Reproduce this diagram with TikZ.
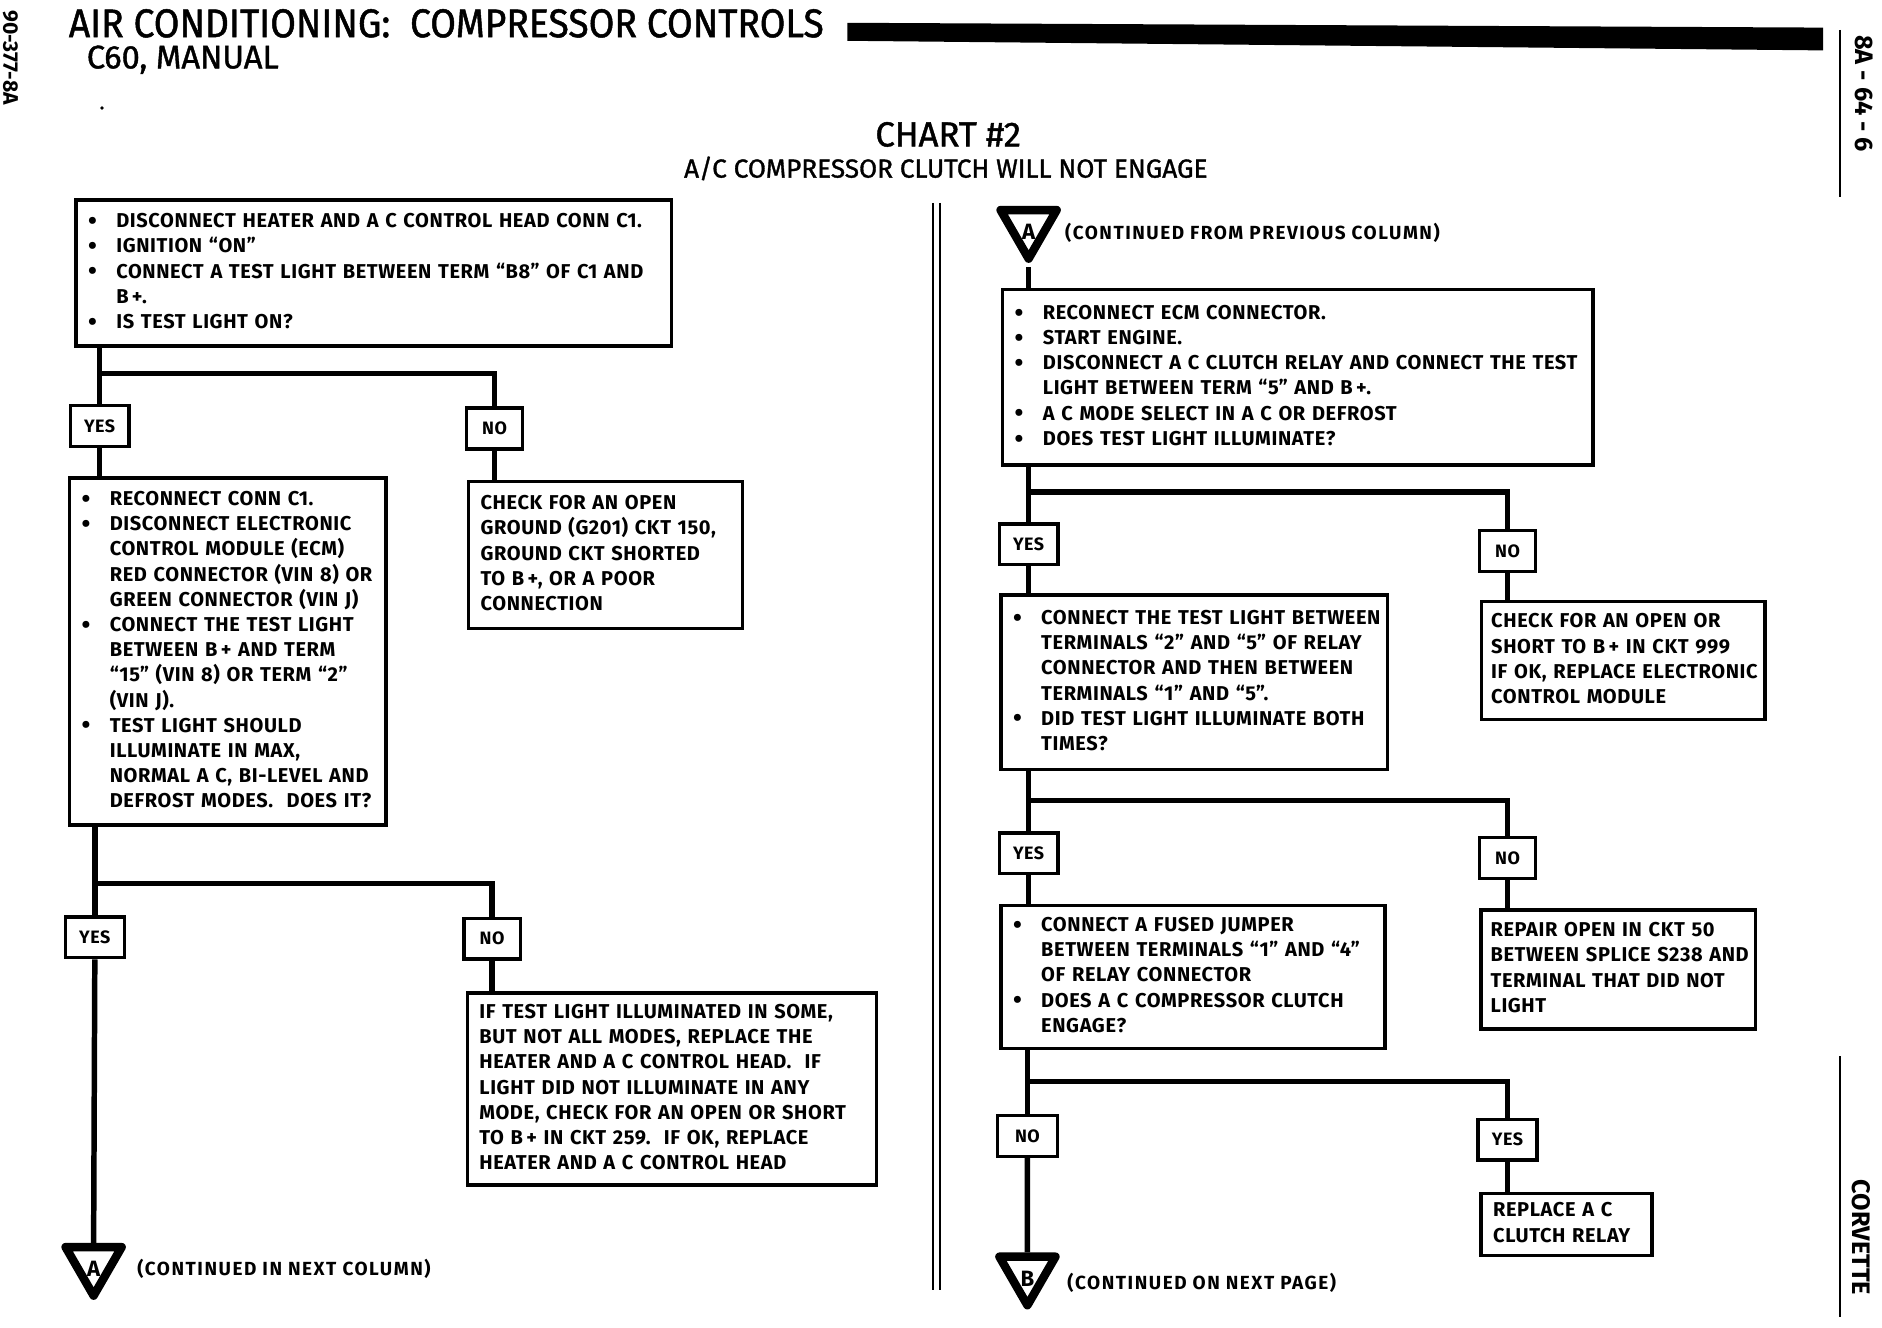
\documentclass[tikz,border=0pt]{standalone}
\usepackage{fontspec}
\setmainfont{Fira Sans}
\newfontfamily\headfont{Fira Sans}[Ligatures=TeX, FakeStretch=0.93, FakeBold=1.2]
\newfontfamily\midfont{Fira Sans}[Ligatures=TeX, FakeBold=1.2]
\newfontfamily\boxfont{Fira Sans}[Ligatures=TeX, LetterSpace=3]
\newfontfamily\notefont{Fira Sans}[Ligatures=TeX, LetterSpace=8]
\usetikzlibrary{shapes.geometric}

\newcommand{\bul}{\makebox[0.47cm][l]{\raisebox{-0.8pt}[0pt][0pt]{\fontsize{12}{11.95}\selectfont\textbullet}}}
\newcommand{\ind}{\hspace*{0.47cm}}
\newcommand{\Bp}{B\,+}
\newcommand{\rows}[1]{\begin{tabular}{@{}l@{}}#1\end{tabular}}
\newcommand{\flagletter}[1]{\raisebox{-0.22cm}[0pt][0pt]{#1}}

\tikzset{
  box/.style={draw, line width=1.6pt, anchor=north west, align=left,
    inner xsep=0.2cm, inner ysep=0pt,
    font=\boxfont\fontsize{9.5}{11.95}\selectfont\bfseries},
  ans/.style={draw, line width=1.6pt, fill=white, inner sep=0pt,
    minimum width=0.98cm, minimum height=0.68cm,
    font=\boxfont\fontsize{8.5}{10}\selectfont\bfseries},
  wire/.style={line width=2.6pt},
  flag/.style={draw, line width=4pt, line join=round, regular polygon,
    regular polygon sides=3, shape border rotate=180, minimum size=1.08cm,
    inner sep=0pt, font=\fontsize{10.5}{11}\selectfont\bfseries},
  note/.style={anchor=west, inner sep=0pt,
    font=\notefont\fontsize{9}{10}\selectfont\bfseries},
  side/.style={rotate=-90, inner sep=0pt,
    font=\fontsize{12}{12}\selectfont\bfseries}
}

\begin{document}
\begin{tikzpicture}[x=0.02cm,y=-0.02cm]
      \useasboundingbox (0,0) rectangle (1568,1106.4);
      % page header
      \node[anchor=base west, inner sep=0pt, font=\headfont\fontsize{19}{20}\selectfont] (title) at (57,31) {AIR CONDITIONING:\ \ COMPRESSOR CONTROLS};
      \node[anchor=base west, inner sep=0pt, font=\midfont\fontsize{15.5}{16}\selectfont] (model) at (72,57) {C60, MANUAL};
      \fill (706,19) -- (1519,23) -- (1519,42) -- (706,34) -- cycle;
      \fill (85,90) circle (1.5);
      \node[side, anchor=south, font=\fontsize{10}{10}\selectfont\bfseries] (code) at (2,48) {90-377-8A};
      \node[side] (page) at (1553,78) {8A - 64 - 6};
      \node[side] (make) at (1551,1031) {CORVETTE};
      \draw[line width=1.2pt] (1533,25) -- (1533,164);
      \draw[line width=1.2pt] (1533,880) -- (1533,1097);
      \node[anchor=base, inner sep=0pt, font=\midfont\fontsize{16.5}{17}\selectfont] (chart) at (790,122) {CHART \#2};
      \node[anchor=base, inner sep=0pt, font=\midfont\fontsize{12.4}{13}\selectfont] (problem) at (788,148) {A/C COMPRESSOR CLUTCH WILL NOT ENGAGE};
      \draw[line width=1pt] (777.5,169) -- (777.5,1075);
      \draw[line width=1pt] (783,169) -- (783,1075);

      % left column
      \node[box, text width=9.52cm, minimum height=2.43cm] (q1) at (62,165.3) {\rows{%
        \bul DISCONNECT HEATER AND A C CONTROL HEAD CONN C1.\\
        \bul IGNITION ``ON''\\
        \bul CONNECT A TEST LIGHT BETWEEN TERM ``B8'' OF C1 AND\\
        \ind \Bp.\\
        \bul IS TEST LIGHT ON?}};
      \node[ans] (yes1) at (83,355) {YES};
      \node[ans, minimum width=0.94cm] (no1) at (412,357) {NO};
      \node[box, text width=4.87cm, minimum height=5.78cm] (a1) at (56.6,397) {\rows{%
        \bul RECONNECT CONN C1.\\
        \bul DISCONNECT ELECTRONIC\\
        \ind CONTROL MODULE (ECM)\\
        \ind RED CONNECTOR (VIN 8) OR\\
        \ind GREEN CONNECTOR (VIN J)\\
        \bul CONNECT THE TEST LIGHT\\
        \ind BETWEEN \Bp\ AND TERM\\
        \ind ``15'' (VIN 8) OR TERM ``2''\\
        \ind (VIN J).\\
        \bul TEST LIGHT SHOULD\\
        \ind ILLUMINATE IN MAX,\\
        \ind NORMAL A C, BI-LEVEL AND\\
        \ind DEFROST MODES.\ \ DOES IT?}};
      \node[box, text width=4.16cm, minimum height=2.44cm] (a2) at (389,400) {\rows{%
        CHECK FOR AN OPEN\\
        GROUND (G201) CKT 150,\\
        GROUND CKT SHORTED\\
        TO \Bp, OR A POOR\\
        CONNECTION}};
      \node[ans] (yes2) at (79,781) {YES};
      \node[ans, minimum width=0.94cm] (no2) at (410,782) {NO};
      \node[box, text width=6.42cm, minimum height=3.2cm] (a3) at (388,826) {\rows{%
        IF TEST LIGHT ILLUMINATED IN SOME,\\
        BUT NOT ALL MODES, REPLACE THE\\
        HEATER AND A C CONTROL HEAD.\ \ IF\\
        LIGHT DID NOT ILLUMINATE IN ANY\\
        MODE, CHECK FOR AN OPEN OR SHORT\\
        TO \Bp\ IN CKT 259.\ \ IF OK, REPLACE\\
        HEATER AND A C CONTROL HEAD}};
      \node[flag] (tA) at (78,1052.5) {\flagletter{A}};
      \node[note] (toA) at (114,1057) {(CONTINUED IN NEXT COLUMN)};

      \coordinate (j1) at (83,311);
      \coordinate (j2) at (78,736);
      \draw[wire] (q1.south -| yes1.north) -- (yes1.north);
      \draw[wire] (j1) -| (no1.north);
      \draw[wire] (yes1.south) -- (yes1.south |- a1.north);
      \draw[wire] (no1.south) -- (no1.south |- a2.north);
      \draw[wire] (a1.south -| yes2.north) -- (yes2.north);
      \draw[wire] (j2) -| (no2.north);
      \draw[wire] (yes2.south) -- (tA.north);
      \draw[wire] (no2.south) -- (no2.south |- a3.north);

      % right column
      \node[flag] (tA2) at (857,188.5) {\flagletter{A}};
      \node[note] (fromA) at (887,194) {(CONTINUED FROM PREVIOUS COLUMN)};
      \node[box, text width=9.44cm, minimum height=2.92cm] (r1) at (834,240) {\rows{%
        \bul RECONNECT ECM CONNECTOR.\\
        \bul START ENGINE.\\
        \bul DISCONNECT A C CLUTCH RELAY AND CONNECT THE TEST\\
        \ind LIGHT BETWEEN TERM ``5'' AND \Bp.\\
        \bul A C MODE SELECT IN A C OR DEFROST\\
        \bul DOES TEST LIGHT ILLUMINATE?}};
      \node[ans] (yes3) at (857,453.5) {YES};
      \node[ans, minimum width=0.94cm] (no3) at (1256,459) {NO};
      \node[box, text width=6.04cm, minimum height=2.91cm] (r2) at (832.6,494.4) {\rows{%
        \bul CONNECT THE TEST LIGHT BETWEEN\\
        \ind TERMINALS ``2'' AND ``5'' OF RELAY\\
        \ind CONNECTOR AND THEN BETWEEN\\
        \ind TERMINALS ``1'' AND ``5''.\\
        \bul DID TEST LIGHT ILLUMINATE BOTH\\
        \ind TIMES?}};
      \node[box, inner xsep=0.16cm, text width=4.4cm, minimum height=1.96cm] (r3) at (1233,500) {\rows{%
        CHECK FOR AN OPEN OR\\
        SHORT TO \Bp\ IN CKT 999\\
        IF OK, REPLACE ELECTRONIC\\
        CONTROL MODULE}};
      \node[ans] (yes4) at (857,711) {YES};
      \node[ans, minimum width=0.94cm] (no4) at (1256,715) {NO};
      \node[box, text width=6.0cm, minimum height=2.39cm] (r4) at (832.6,752.8) {\rows{%
        \bul CONNECT A FUSED JUMPER\\
        \ind BETWEEN TERMINALS ``1'' AND ``4''\\
        \ind OF RELAY CONNECTOR\\
        \bul DOES A C COMPRESSOR CLUTCH\\
        \ind ENGAGE?}};
      \node[box, inner xsep=0.16cm, text width=4.25cm, minimum height=1.98cm] (r5) at (1232.5,756.8) {\rows{%
        REPAIR OPEN IN CKT 50\\
        BETWEEN SPLICE S238 AND\\
        TERMINAL THAT DID NOT\\
        LIGHT}};
      \node[ans, minimum width=1.0cm] (no5) at (856,946.5) {NO};
      \node[ans] (yes5) at (1256,949.6) {YES};
      \node[box, text width=2.45cm, minimum height=1.03cm] (r6) at (1232.6,993) {\rows{%
        REPLACE A C\\
        CLUTCH RELAY}};
      \node[flag] (tB) at (856,1060.5) {\flagletter{B}};
      \node[note] (toB) at (889,1069) {(CONTINUED ON NEXT PAGE)};

      \coordinate (j3) at (857,410);
      \coordinate (j4) at (857,667);
      \coordinate (j5) at (856,901);
      \draw[wire] (tA2.south) -- (tA2.south |- r1.north);
      \draw[wire] (r1.south -| yes3.north) -- (yes3.north);
      \draw[wire] (j3) -| (no3.north);
      \draw[wire] (yes3.south) -- (yes3.south |- r2.north);
      \draw[wire] (no3.south) -- (no3.south |- r3.north);
      \draw[wire] (r2.south -| yes4.north) -- (yes4.north);
      \draw[wire] (j4) -| (no4.north);
      \draw[wire] (yes4.south) -- (yes4.south |- r4.north);
      \draw[wire] (no4.south) -- (no4.south |- r5.north);
      \draw[wire] (r4.south -| no5.north) -- (no5.north);
      \draw[wire] (j5) -| (yes5.north);
      \draw[wire] (no5.south) -- (tB.north);
      \draw[wire] (yes5.south) -- (yes5.south |- r6.north);
\end{tikzpicture}
\end{document}
